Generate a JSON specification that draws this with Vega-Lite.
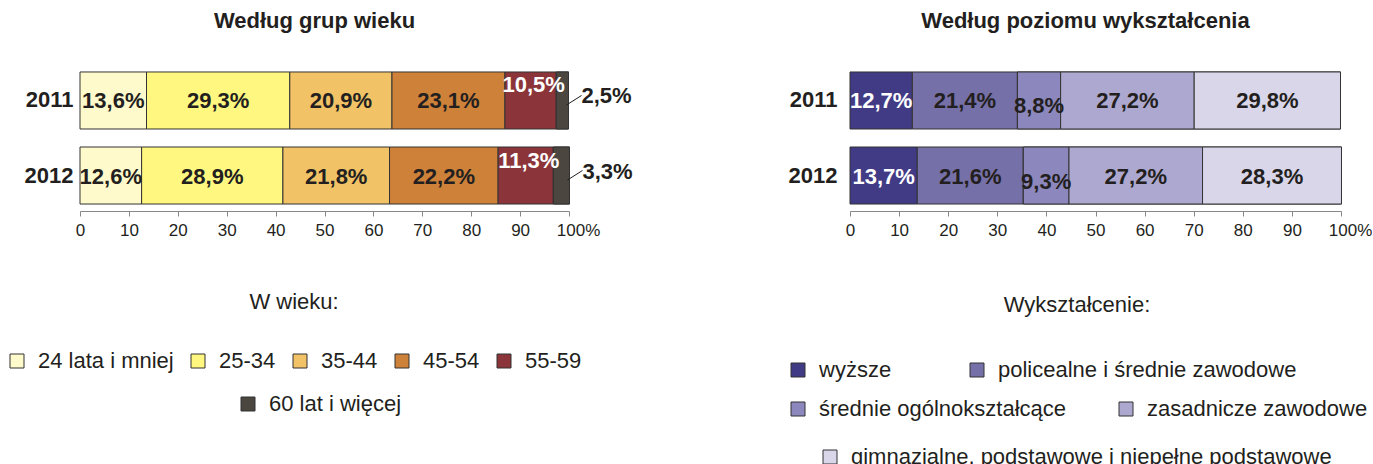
{
  "$schema": "https://vega.github.io/schema/vega-lite/v6.json",
  "background": "white",
  "padding": {"left": 6, "top": 10, "right": 0, "bottom": 0},
  "config": {
    "view": {"stroke": null},
    "font": "Liberation Sans",
    "title": {"font": "Liberation Sans", "fontSize": 22, "fontWeight": "bold", "color": "#231f20", "anchor": "middle", "frame": "group", "baseline": "alphabetic", "offset": 32, "dx": -10},
    "axisY": {"title": null, "domain": false, "ticks": false, "labelFontSize": 22, "labelFontWeight": "bold", "labelColor": "#231f20", "labelFont": "Liberation Sans"},
    "axisX": {"title": null, "grid": false, "domainColor": "#888888", "tickColor": "#888888", "tickSize": 5, "labelFontSize": 17, "labelColor": "#231f20", "labelPadding": 6, "labelFont": "Liberation Sans", "labelFlush": false, "labelOverlap": false},
    "legend": {"labelFont": "Liberation Sans", "labelFontSize": 22, "labelColor": "#231f20", "titleFont": "Liberation Sans", "titleFontSize": 22, "titleFontWeight": "normal", "titleColor": "#231f20", "titleAnchor": "middle", "symbolType": "square", "symbolSize": 196, "symbolStrokeColor": "#333333", "symbolStrokeWidth": 1, "labelOffset": 10, "direction": "horizontal", "orient": "none", "gridAlign": "none", "labelLimit": 600, "padding": 0}
  },
  "datasets": {
    "age": [
      {"year": "2011", "cat": "24 lata i mniej", "v": 13.6},
      {"year": "2011", "cat": "25-34", "v": 29.3},
      {"year": "2011", "cat": "35-44", "v": 20.9},
      {"year": "2011", "cat": "45-54", "v": 23.1},
      {"year": "2011", "cat": "55-59", "v": 10.5},
      {"year": "2011", "cat": "60 lat i więcej", "v": 2.5},
      {"year": "2012", "cat": "24 lata i mniej", "v": 12.6},
      {"year": "2012", "cat": "25-34", "v": 28.9},
      {"year": "2012", "cat": "35-44", "v": 21.8},
      {"year": "2012", "cat": "45-54", "v": 22.2},
      {"year": "2012", "cat": "55-59", "v": 11.3},
      {"year": "2012", "cat": "60 lat i więcej", "v": 3.3}
    ],
    "edu": [
      {"year": "2011", "cat": "wyższe", "v": 12.7},
      {"year": "2011", "cat": "policealne i średnie zawodowe", "v": 21.4},
      {"year": "2011", "cat": "średnie ogólnokształcące", "v": 8.8},
      {"year": "2011", "cat": "zasadnicze zawodowe", "v": 27.2},
      {"year": "2011", "cat": "gimnazjalne, podstawowe i niepełne podstawowe", "v": 29.8},
      {"year": "2012", "cat": "wyższe", "v": 13.7},
      {"year": "2012", "cat": "policealne i średnie zawodowe", "v": 21.6},
      {"year": "2012", "cat": "średnie ogólnokształcące", "v": 9.3},
      {"year": "2012", "cat": "zasadnicze zawodowe", "v": 27.2},
      {"year": "2012", "cat": "gimnazjalne, podstawowe i niepełne podstawowe", "v": 28.3}
    ]
  },
  "spacing": 281,
  "bounds": "flush",
  "resolve": {
    "scale": {"color": "independent", "fill": "independent", "stroke": "independent", "x": "independent", "y": "independent"},
    "legend": {"color": "independent", "fill": "independent", "stroke": "independent"}
  },
  "hconcat": [
    {
      "width": 489,
      "height": 146,
      "title": {"text": "Według grup wieku"},
      "data": {"name": "age"},
      "transform": [
        {"calculate": "indexof(['24 lata i mniej','25-34','35-44','45-54','55-59','60 lat i więcej'], datum.cat)", "as": "k"},
        {"stack": "v", "groupby": ["year"], "sort": [{"field": "k", "order": "ascending"}], "as": ["x0", "x1"]},
        {"calculate": "(datum.x0 + datum.x1) / 2", "as": "mid"},
        {"calculate": "replace(format(datum.v, '.1f'), '.', ',') + '%'", "as": "lab"}
      ],
      "encoding": {
        "y": {"field": "year", "type": "nominal", "scale": {"paddingInner": 0.24, "paddingOuter": 0.093}, "axis": {"labelPadding": 7}}
      },
      "layer": [
        {
          "mark": {"type": "bar", "stroke": "#333333", "strokeWidth": 1},
          "encoding": {
            "x": {"field": "x0", "type": "quantitative", "scale": {"domain": [0, 100], "nice": false},
              "axis": {"values": [0, 10, 20, 30, 40, 50, 60, 70, 80, 90, 100], "labelExpr": "datum.value == 100 ? '100%' : datum.label", "labelOffset": {"condition": {"test": "datum.value == 100", "value": 9}, "value": 0}}},
            "x2": {"field": "x1"},
            "color": {"field": "cat", "type": "nominal",
              "scale": {"domain": ["24 lata i mniej", "25-34", "35-44", "45-54", "55-59", "60 lat i więcej"], "range": ["#FFFACB", "#FFF77F", "#F1C266", "#CE8139", "#8B353A", "#4B4640"]},
              "legend": {"values": ["24 lata i mniej", "25-34", "35-44", "45-54", "55-59"], "title": "W wieku:", "legendX": -74, "legendY": 227, "columns": 5, "columnPadding": 13, "titlePadding": 36, "labelOffset": 10, "labelLimit": 600, "padding": 0}}
          }
        },
        {
          "transform": [{"filter": "datum.cat == '60 lat i więcej'"}],
          "mark": {"type": "bar", "stroke": "#333333", "strokeWidth": 1},
          "encoding": {
            "x": {"field": "x0", "type": "quantitative"},
            "x2": {"field": "x1"},
            "fill": {"field": "cat", "type": "nominal", "scale": {"domain": ["60 lat i więcej"], "range": ["#4B4640"]},
              "legend": {"title": null, "legendX": 157, "legendY": 328, "labelOffset": 10, "labelLimit": 600, "padding": 0}}
          }
        },
        {
          "transform": [{"filter": "datum.cat != '55-59' && datum.cat != '60 lat i więcej'"}],
          "mark": {"type": "text", "font": "Liberation Sans", "fontSize": 22, "fontWeight": "bold", "color": "#231f20", "dy": 1},
          "encoding": {"x": {"field": "mid", "type": "quantitative"}, "text": {"field": "lab"}}
        },
        {
          "transform": [{"filter": "datum.cat == '55-59'"}],
          "mark": {"type": "text", "font": "Liberation Sans", "fontSize": 22, "fontWeight": "bold", "color": "white", "dy": -15, "dx": 3},
          "encoding": {"x": {"field": "mid", "type": "quantitative"}, "text": {"field": "lab"}}
        },
        {
          "transform": [{"filter": "datum.cat == '60 lat i więcej'"}],
          "mark": {"type": "text", "font": "Liberation Sans", "fontSize": 22, "fontWeight": "bold", "color": "#231f20", "align": "left", "dx": 13, "dy": -4},
          "encoding": {"x": {"field": "x1", "type": "quantitative"}, "text": {"field": "lab"}}
        },
        {
          "transform": [{"filter": "datum.cat == '60 lat i więcej'"}],
          "mark": {"type": "rule", "color": "#231f20", "strokeWidth": 1, "xOffset": -2, "x2Offset": 13, "yOffset": 4.5, "y2Offset": -5},
          "encoding": {"x": {"field": "x1", "type": "quantitative"}, "x2": {"field": "x1"}, "y2": {"field": "year"}}
        }
      ]
    },
    {
      "width": 491,
      "height": 146,
      "title": {"text": "Według poziomu wykształcenia"},
      "data": {"name": "edu"},
      "transform": [
        {"calculate": "indexof(['wyższe','policealne i średnie zawodowe','średnie ogólnokształcące','zasadnicze zawodowe','gimnazjalne, podstawowe i niepełne podstawowe'], datum.cat)", "as": "k"},
        {"stack": "v", "groupby": ["year"], "sort": [{"field": "k", "order": "ascending"}], "as": ["x0", "x1"]},
        {"calculate": "(datum.x0 + datum.x1) / 2", "as": "mid"},
        {"calculate": "replace(format(datum.v, '.1f'), '.', ',') + '%'", "as": "lab"}
      ],
      "encoding": {
        "y": {"field": "year", "type": "nominal", "scale": {"paddingInner": 0.24, "paddingOuter": 0.093}, "axis": {"labelPadding": 13}}
      },
      "layer": [
        {
          "mark": {"type": "bar", "stroke": "#333333", "strokeWidth": 1},
          "encoding": {
            "x": {"field": "x0", "type": "quantitative", "scale": {"domain": [0, 100], "nice": false},
              "axis": {"values": [0, 10, 20, 30, 40, 50, 60, 70, 80, 90, 100], "labelExpr": "datum.value == 100 ? '100%' : datum.label", "labelOffset": {"condition": {"test": "datum.value == 100", "value": 9}, "value": 0}}},
            "x2": {"field": "x1"},
            "color": {"field": "cat", "type": "nominal",
              "scale": {"domain": ["wyższe", "policealne i średnie zawodowe", "średnie ogólnokształcące", "zasadnicze zawodowe", "gimnazjalne, podstawowe i niepełne podstawowe"], "range": ["#413B85", "#7670A8", "#8C87BC", "#ADA8CF", "#D9D6EA"]},
              "legend": {"values": ["wyższe", "policealne i średnie zawodowe"], "title": null, "legendX": -63, "legendY": 294, "columns": 2, "columnPadding": 74, "labelOffset": 10, "labelLimit": 600, "padding": 0}}
          }
        },
        {
          "transform": [{"filter": "datum.cat == 'średnie ogólnokształcące' || datum.cat == 'zasadnicze zawodowe'"}],
          "mark": {"type": "bar", "stroke": "#333333", "strokeWidth": 1},
          "encoding": {
            "x": {"field": "x0", "type": "quantitative"},
            "x2": {"field": "x1"},
            "fill": {"field": "cat", "type": "nominal", "scale": {"domain": ["średnie ogólnokształcące", "zasadnicze zawodowe"], "range": ["#8C87BC", "#ADA8CF"]},
              "legend": {"title": "Wykształcenie:", "legendX": -63, "legendY": 230, "titlePadding": 81, "columns": 2, "columnPadding": 48, "labelOffset": 10, "labelLimit": 600, "padding": 0}}
          }
        },
        {
          "transform": [{"filter": "datum.cat == 'gimnazjalne, podstawowe i niepełne podstawowe'"}],
          "mark": {"type": "bar", "fill": "#D9D6EA", "strokeWidth": 1},
          "encoding": {
            "x": {"field": "x0", "type": "quantitative"},
            "x2": {"field": "x1"},
            "stroke": {"field": "cat", "type": "nominal", "scale": {"domain": ["gimnazjalne, podstawowe i niepełne podstawowe"], "range": ["#333333"]},
              "legend": {"title": null, "legendX": -31, "legendY": 381, "symbolFillColor": "#D9D6EA", "labelOffset": 10, "labelLimit": 600, "padding": 0}}
          }
        },
        {
          "transform": [{"filter": "datum.cat != 'wyższe' && datum.cat != 'średnie ogólnokształcące'"}],
          "mark": {"type": "text", "font": "Liberation Sans", "fontSize": 22, "fontWeight": "bold", "color": "#231f20", "dy": 1},
          "encoding": {"x": {"field": "mid", "type": "quantitative"}, "text": {"field": "lab"}}
        },
        {
          "transform": [{"filter": "datum.cat == 'wyższe'"}],
          "mark": {"type": "text", "font": "Liberation Sans", "fontSize": 22, "fontWeight": "bold", "color": "white", "dy": 1},
          "encoding": {"x": {"field": "mid", "type": "quantitative"}, "text": {"field": "lab"}}
        },
        {
          "transform": [{"filter": "datum.cat == 'średnie ogólnokształcące'"}],
          "mark": {"type": "text", "font": "Liberation Sans", "fontSize": 22, "fontWeight": "bold", "color": "#231f20", "dy": 6},
          "encoding": {"x": {"field": "mid", "type": "quantitative"}, "text": {"field": "lab"}}
        }
      ]
    }
  ]
}
